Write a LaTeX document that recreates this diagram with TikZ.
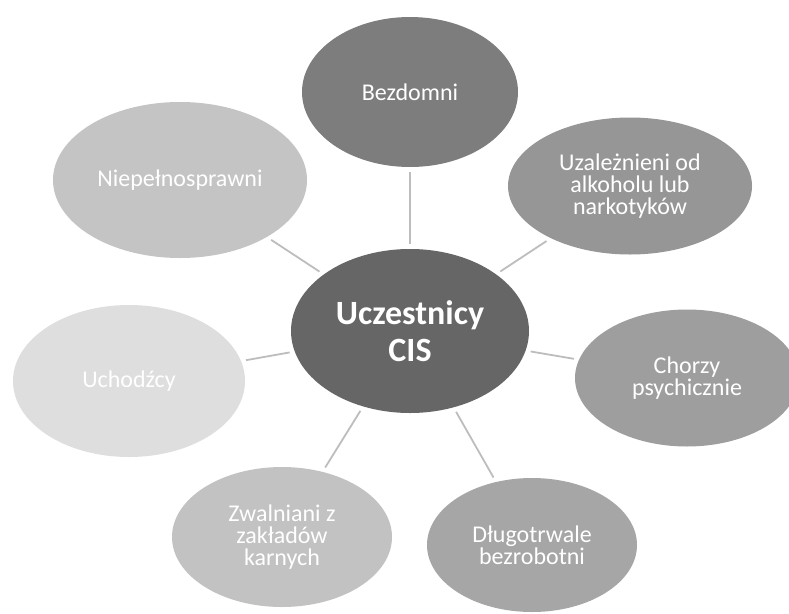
\documentclass[tikz,border=0pt]{standalone}
\usepackage{fontspec}
\setmainfont{Carlito}
\usetikzlibrary{shapes.geometric}
\definecolor{cCenter}{gray}{0.40}
\definecolor{cBez}{gray}{0.49}
\definecolor{cUza}{gray}{0.59}
\definecolor{cCho}{gray}{0.62}
\definecolor{cDlu}{gray}{0.65}
\definecolor{cZwa}{gray}{0.76}
\definecolor{cNie}{gray}{0.77}
\definecolor{cUch}{gray}{0.87}
\definecolor{cLine}{gray}{0.74}
\tikzset{
  bubble/.style={ellipse, inner sep=0pt, text=white, align=center,
    font=\fontsize{24}{22}\selectfont},
  link/.style={draw=cLine, line width=1.8pt, shorten >=5pt, shorten <=5pt}
}
\begin{document}
\begin{tikzpicture}[x=1pt,y=-1pt]
\useasboundingbox (0,0) rectangle (789,613);
\clip (0,0) rectangle (789,613);
\fill[white] (0,0) rectangle (789,613);
\node[bubble, fill=cCenter, minimum width=238pt, minimum height=164pt,
      font=\fontsize{34}{37}\selectfont\bfseries] (c) at (410,331) {Uczestnicy\\CIS};
\node[bubble, fill=cBez, minimum width=216pt, minimum height=150pt] (bez) at (410,92) {Bezdomni};
\node[bubble, fill=cUza, minimum width=244pt, minimum height=137pt] (uza) at (630,186) {Uzależnieni od\\alkoholu lub\\narkotyków};
\node[bubble, fill=cCho, minimum width=224pt, minimum height=137pt] (cho) at (687,378) {Chorzy\\psychicznie};
\node[bubble, fill=cDlu, minimum width=210pt, minimum height=134pt] (dlu) at (532,545) {Długotrwale\\bezrobotni};
\node[bubble, fill=cZwa, minimum width=220pt, minimum height=140pt] (zwa) at (282,537) {Zwalniani z\\zakładów\\karnych};
\node[bubble, fill=cUch, minimum width=232pt, minimum height=152pt] (uch) at (129,381) {Uchodźcy};
\node[bubble, fill=cNie, minimum width=254pt, minimum height=156pt] (nie) at (180,180) {Niepełnosprawni};
\foreach \n in {bez,uza,cho,dlu,zwa,uch,nie}
  \draw[link] (c) -- (\n);
\end{tikzpicture}
\end{document}
